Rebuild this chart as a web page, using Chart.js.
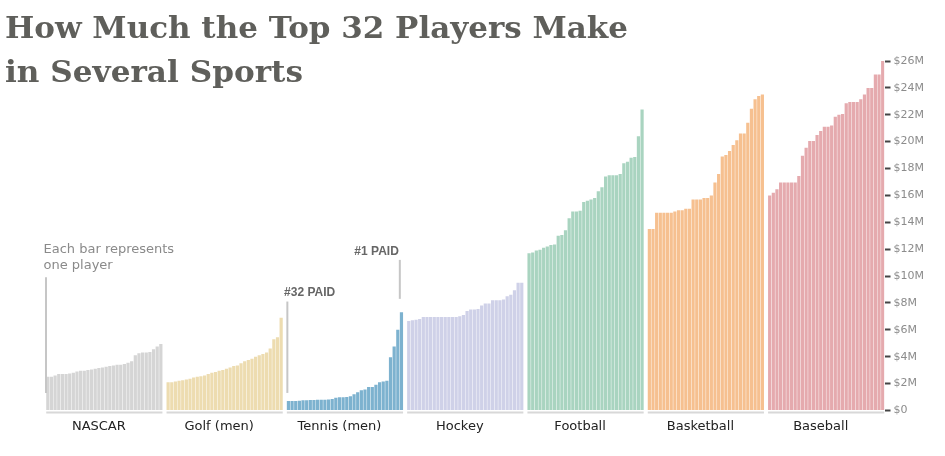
<!DOCTYPE html>
<html>
<head>
<meta charset="utf-8">
<title>How Much the Top 32 Players Make in Several Sports</title>
<script src="https://cdn.jsdelivr.net/npm/chart.js"></script>
<style>
html, body { margin: 0; padding: 0; background: #fff; }
#wrap { position: relative; width: 945px; height: 456px; }
</style>
</head>
<body>
<div id="wrap"><canvas id="payChart"></canvas></div>
<script>
// pay of the top 32 players per sport, $M, lowest to highest
var sports = ['NASCAR', 'Golf (men)', 'Tennis (men)', 'Hockey', 'Football', 'Basketball', 'Baseball'];

var nascarPay = [2.5, 2.5, 2.6, 2.7, 2.7, 2.7, 2.75, 2.8, 2.9, 2.95, 2.95, 3.0, 3.05, 3.1, 3.15, 3.2,
	3.25, 3.3, 3.35, 3.4, 3.4, 3.45, 3.55, 3.65, 4.1, 4.25, 4.3, 4.3, 4.35, 4.55, 4.75, 4.95];
var golfPay = [2.1, 2.1, 2.15, 2.2, 2.25, 2.3, 2.35, 2.45, 2.5, 2.55, 2.6, 2.7, 2.8, 2.85, 2.95, 3.0,
	3.1, 3.2, 3.3, 3.35, 3.5, 3.65, 3.75, 3.85, 4.0, 4.1, 4.2, 4.3, 4.6, 5.3, 5.45, 6.9];
var tennisPay = [0.7, 0.7, 0.7, 0.72, 0.75, 0.75, 0.77, 0.78, 0.8, 0.8, 0.8, 0.82, 0.85, 0.95, 0.97, 0.97,
	1.0, 1.05, 1.2, 1.35, 1.5, 1.55, 1.75, 1.75, 1.9, 2.1, 2.15, 2.2, 3.95, 4.75, 6.0, 7.3];
var hockeyPay = [6.65, 6.7, 6.75, 6.8, 6.95, 6.95, 6.95, 6.95, 6.95, 6.95, 6.95, 6.95, 6.95, 6.95, 7.0, 7.1,
	7.4, 7.5, 7.5, 7.55, 7.8, 7.95, 7.95, 8.2, 8.2, 8.2, 8.25, 8.5, 8.6, 8.95, 9.5, 9.5];
var footballPay = [11.7, 11.75, 11.9, 11.95, 12.1, 12.2, 12.3, 12.35, 13.0, 13.05, 13.4, 14.3, 14.8, 14.8, 14.85, 15.5,
	15.6, 15.7, 15.8, 16.3, 16.6, 17.4, 17.5, 17.5, 17.5, 17.6, 18.4, 18.5, 18.8, 18.85, 20.4, 22.4];
var basketballPay = [13.5, 13.5, 14.7, 14.7, 14.7, 14.7, 14.7, 14.8, 14.9, 14.9, 15.0, 15.0, 15.7, 15.7, 15.7, 15.8,
	15.8, 16.0, 16.95, 17.6, 18.9, 19.0, 19.3, 19.75, 20.1, 20.6, 20.6, 21.4, 22.45, 23.15, 23.4, 23.5];
var baseballPay = [16.0, 16.2, 16.45, 16.95, 16.95, 16.95, 16.95, 16.95, 17.45, 18.95, 19.55, 20.05, 20.05, 20.5, 20.8, 21.1,
	21.1, 21.2, 21.85, 22.0, 22.05, 22.85, 22.95, 22.95, 22.95, 23.15, 23.5, 24.0, 24.0, 25.0, 25.0, 26.0];

var yTicks = [0, 2, 4, 6, 8, 10, 12, 14, 16, 18, 20, 22, 24, 26];

var sportColors = ['#d5d5d5', '#eddcb0', '#7db2cf', '#cfd1e8', '#a9d4c0', '#f6c090', '#e5aaae'];

var payLists = [nascarPay, golfPay, tennisPay, hockeyPay, footballPay, basketballPay, baseballPay];
var groupSize = 33; // 32 players + one empty slot between sports
var slotCount = sports.length * groupSize - 1;

var slotLabels = [];
for (var i = 0; i < slotCount; i++) {
	slotLabels.push('');
}
// label sits a bit left of the middle, like the original
for (var g = 0; g < sports.length; g++) {
	slotLabels[g * groupSize + 14] = sports[g];
}

var datasets = [];
for (var g = 0; g < sports.length; g++) {
	var data = [];
	for (var i = 0; i < slotCount; i++) {
		var k = i - g * groupSize;
		data.push(k >= 0 && k < 32 ? payLists[g][k] : null);
	}
	datasets.push({
		label : sports[g],
		data : data,
		backgroundColor : sportColors[g],
		grouped : false,
		barPercentage : 0.88,
		categoryPercentage : 1.0
	});
}

var extrasPlugin = {
	id : 'extras',
	afterDatasetsDraw : function(chart) {
		var ctx = chart.ctx;
		var xs = chart.scales.x, ys = chart.scales.y;
		var slot = xs.getPixelForValue(1) - xs.getPixelForValue(0);
		var base = ys.getPixelForValue(0);
		ctx.save();

		// baseline under each sport
		ctx.strokeStyle = '#d8d8d8';
		ctx.lineWidth = 2;
		for (var g = 0; g < sports.length; g++) {
			var first = xs.getPixelForValue(g * groupSize);
			var last = xs.getPixelForValue(g * groupSize + 31);
			ctx.beginPath();
			ctx.moveTo(first - slot * 0.44, base + 2);
			ctx.lineTo(last + slot * 0.44, base + 2);
			ctx.stroke();
		}

		// pointer lines
		ctx.strokeStyle = '#c6c6c6';
		ctx.lineWidth = 2;
		var nx = xs.getPixelForValue(0) - slot * 0.5;
		var t32 = xs.getPixelForValue(2 * groupSize) - slot * 0.3;
		var t1 = xs.getPixelForValue(2 * groupSize + 31) - slot * 0.45;
		var lines = [[nx, 9.9, 1.3], [t32, 8.1, 1.3], [t1, 11.2, 8.3]];
		for (var j = 0; j < lines.length; j++) {
			ctx.beginPath();
			ctx.moveTo(lines[j][0], ys.getPixelForValue(lines[j][1]));
			ctx.lineTo(lines[j][0], ys.getPixelForValue(lines[j][2]));
			ctx.stroke();
		}

		ctx.textBaseline = 'alphabetic';
		ctx.fillStyle = '#8a8a8a';
		ctx.font = '13px "DejaVu Sans"';
		ctx.textAlign = 'left';
		ctx.fillText('Each bar represents', nx - 2.5, ys.getPixelForValue(11.7));
		ctx.fillText('one player', nx - 2.5, ys.getPixelForValue(10.5));

		ctx.fillStyle = '#666';
		ctx.font = 'bold 12px "Liberation Sans"';
		ctx.fillText('#32 PAID', t32 - 3.3, ys.getPixelForValue(8.5));
		ctx.textAlign = 'right';
		ctx.fillText('#1 PAID', t1 - 1, ys.getPixelForValue(11.6));
		ctx.restore();
	},
	afterDraw : function(chart) {
		// title, squeezed to the width of the original lettering
		var ctx = chart.ctx;
		var titleLines = [['How Much the Top 32 Players Make', 37.5, 623], ['in Several Sports', 81.5, 298]];
		ctx.save();
		ctx.fillStyle = '#5f5f5b';
		ctx.font = 'bold 29px "DejaVu Serif"';
		ctx.textAlign = 'left';
		ctx.textBaseline = 'alphabetic';
		for (var j = 0; j < titleLines.length; j++) {
			var w = ctx.measureText(titleLines[j][0]).width;
			ctx.save();
			ctx.translate(5, titleLines[j][1]);
			ctx.scale(titleLines[j][2] / w, 1);
			ctx.fillText(titleLines[j][0], 0, 0);
			ctx.restore();
		}
		ctx.restore();
	}
};

var payCanvas = document.getElementById('payChart').getContext('2d');
var payChart = new Chart(payCanvas, {
	type : 'bar',
	data : {
		labels : slotLabels,
		datasets : datasets
	},
	options : {
		responsive : true,
		maintainAspectRatio : false,
		animation : false,
		layout : {
			padding : { top : 61, left : 46, right : 18, bottom : 14 }
		},
		plugins : {
			legend : { display : false },
			tooltip : { enabled : false }
		},
		scales : {
			x : {
				type : 'category',
				grid : { display : false, drawTicks : false },
				border : { display : false },
				ticks : {
					autoSkip : false,
					maxRotation : 0,
					minRotation : 0,
					padding : 8,
					color : '#222',
					font : { family : 'DejaVu Sans', size : 13 }
				}
			},
			y : {
				position : 'right',
				min : 0,
				max : 26,
				afterBuildTicks : function(axis) {
					axis.ticks = yTicks.map(function(v) { return { value : v }; });
				},
				grid : {
					drawOnChartArea : false,
					drawTicks : true,
					tickLength : 6,
					tickWidth : 2,
					tickColor : '#444'
				},
				border : { display : false },
				ticks : {
					padding : 3,
					color : '#8c8c8c',
					font : { family : 'DejaVu Sans', size : 11 },
					callback : function(v) {
						return v === 0 ? '$0' : '$' + v + 'M';
					}
				}
			}
		}
	},
	plugins : [extrasPlugin]
});
</script>
</body>
</html>
